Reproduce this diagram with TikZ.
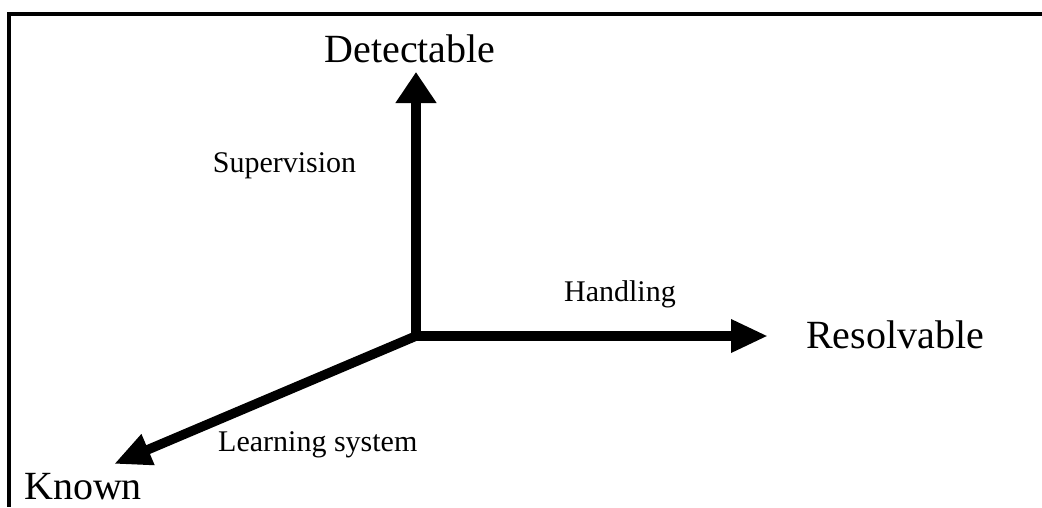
\documentclass[tikz,border=0pt]{standalone}
\usepackage{fontspec}
\setmainfont{Liberation Serif}
\usetikzlibrary{arrows.meta}
\tikzset{
  axis/.style={line width=9.5pt},
  uptip/.style={arrows={Triangle[length=31pt,width=39pt]-}},
  sidetip/.style={arrows={-Triangle[length=37pt,width=31pt]}},
  frameline/.style={line width=3.2pt},
  biglabel/.style={inner sep=0pt, anchor=base, font=\fontsize{40}{40}\selectfont},
  smalllabel/.style={inner sep=0pt, anchor=base, font=\fontsize{30}{30}\selectfont}
}
\begin{document}
\begin{tikzpicture}[x=1pt,y=-1pt]
\useasboundingbox (0,0) rectangle (1042,507);
\fill[white] (0,0) rectangle (1042,507);
% frame
\coordinate (F1) at (1042,14);
\coordinate (F2) at (9,14);
\coordinate (F3) at (9,507);
\draw[frameline] (F1) -- (F2) -- (F3);
% axes
\coordinate (O) at (416,336);
\coordinate (D) at (416,72);
\coordinate (R) at (768,336);
\coordinate (K) at (114,464);
\draw[axis, uptip, arrows={Triangle[length=31pt,width=39pt]-Triangle[length=37pt,width=31pt]}] (D) -- (O) -- (R);
\draw[axis, sidetip, line cap=butt] (O) -- (K);
% labels
\node[biglabel] (det) at (410,62) {Detectable};
\node[biglabel] (res) at (895,348) {Resolvable};
\node[biglabel, anchor=base west] (kno) at (24,499) {Known};
\node[smalllabel] (sup) at (284.5,172) {Supervision};
\node[smalllabel] (han) at (620,301) {Handling};
\node[smalllabel, anchor=base west] (lea) at (218,451) {Learning system};
\end{tikzpicture}
\end{document}
